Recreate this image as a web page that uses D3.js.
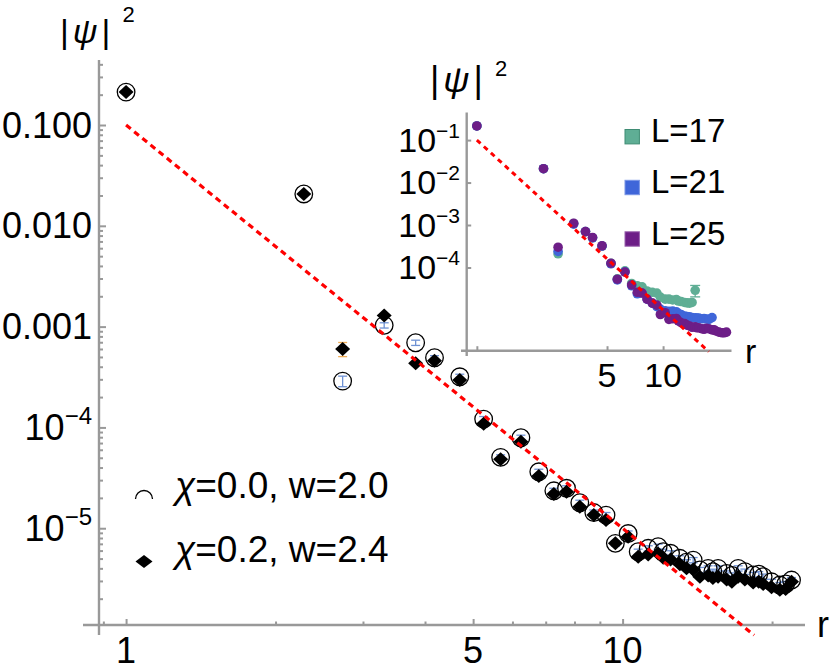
<!DOCTYPE html>
<html>
<head>
<meta charset="utf-8">
<script src="https://cdn.jsdelivr.net/npm/d3@7"></script>
<style>
body { margin: 0; background: #fff; }
svg { font-family: "Liberation Sans", Arial, sans-serif; }
</style>
</head>
<body>
<svg width="830" height="672"></svg>
<script>
// distances r shared by all series
const rVals = [1, 2.28, 2.73, 3.31, 3.83, 4.18, 4.70, 5.25, 5.68, 6.24,
    6.78, 7.27, 7.71, 8.20, 8.75, 9.26, 9.67, 10.26, 10.75, 11.26,
    11.79, 12.07, 12.49, 13.04, 13.45, 13.87, 14.31, 14.87, 15.2, 15.57,
    16.2, 16.6, 17.09, 17.63, 18.32, 18.8, 19.19, 19.95, 20.73, 21.3, 21.89];

// main plot: chi=0.0, w=2.0 (open circles)
const psiChi0 = [0.212, 0.0207, 2.88e-4, 1.03e-3, 6.92e-4, 4.91e-4, 3.18e-4, 1.21e-4, 5.05e-5, 7.9e-5,
    3.63e-5, 2.35e-5, 2.49e-5, 1.79e-5, 1.43e-5, 1.35e-5, 7.08e-6, 8.86e-6, 5.85e-6, 6.32e-6,
    6.56e-6, 5.85e-6, 5.64e-6, 5.03e-6, 4.6e-6, 4.83e-6, 3.85e-6, 4.0e-6, 3.7e-6, 4.0e-6,
    3.56e-6, 3.4e-6, 4.0e-6, 3.71e-6, 3.44e-6, 3.5e-6, 3.31e-6, 2.94e-6, 2.73e-6, 2.8e-6, 3.06e-6];
const errChi0 = [0.03, 0.03, 0.12, 0.06, 0.06, 0.05, 0.06, 0.06, 0.06, 0.06,
    0.06, 0.06, 0.06, 0.06, 0.06, 0.06, 0.06, 0.06, 0.06, 0.06,
    0.06, 0.06, 0.06, 0.06, 0.06, 0.06, 0.06, 0.06, 0.06, 0.06,
    0.06, 0.06, 0.06, 0.06, 0.06, 0.06, 0.06, 0.06, 0.06, 0.06, 0.06];

// main plot: chi=0.2, w=2.4 (filled diamonds)
const psiChi2 = [0.212, 0.0207, 6.0e-4, 1.29e-3, 4.33e-4, 4.59e-4, 2.95e-4, 1.09e-4, 4.82e-5, 7.21e-5,
    3.30e-5, 2.18e-5, 2.30e-5, 1.63e-5, 1.35e-5, 1.21e-5, 7.08e-6, 8.24e-6, 5.2e-6, 5.5e-6,
    5.6e-6, 5.1e-6, 4.9e-6, 4.4e-6, 4.0e-6, 3.9e-6, 3.3e-6, 3.4e-6, 3.2e-6, 3.3e-6,
    3.1e-6, 2.95e-6, 3.3e-6, 3.1e-6, 2.9e-6, 2.95e-6, 2.8e-6, 2.6e-6, 2.45e-6, 2.5e-6, 2.95e-6];
const errChi2 = [0.02, 0.02, 0.16, 0.04, 0.04, 0.04, 0.04, 0.04, 0.04, 0.04,
    0.04, 0.04, 0.04, 0.04, 0.04, 0.04, 0.04, 0.04, 0.04, 0.04,
    0.04, 0.04, 0.04, 0.04, 0.04, 0.04, 0.04, 0.04, 0.04, 0.04,
    0.04, 0.04, 0.04, 0.04, 0.04, 0.04, 0.04, 0.04, 0.04, 0.04, 0.04];

// inset: system sizes
const psiL17 = [0.215, 0.0212, 2.1e-4, 1.08e-3, 7.0e-4, 5.0e-4, 3.2e-4, 1.25e-4, 5.4e-5, 8.3e-5,
    4.2e-5, 3.7e-5, 3.5e-5, 2.8e-5, 2.6e-5, 2.5e-5, 2.0e-5, 1.8e-5, 1.8e-5, 1.72e-5,
    1.75e-5, 1.62e-5, 1.58e-5, 1.5e-5, 1.47e-5, 1.45e-5, 1.5e-5, 2.9e-5];
const errL17 = [0, 0, 0, 0, 0, 0, 0, 0, 0, 0,
    0, 0, 0, 0, 0, 0, 0, 0, 0, 0,
    0, 0, 0, 0, 0, 0, 0, 0.3];
const psiL21 = [0.215, 0.0212, 2.4e-4, 1.05e-3, 7.0e-4, 5.0e-4, 3.2e-4, 1.22e-4, 5.1e-5, 7.9e-5,
    3.7e-5, 2.4e-5, 2.5e-5, 1.8e-5, 1.45e-5, 1.2e-5, 1.05e-5, 9.5e-6, 9.3e-6, 9.4e-6,
    9.0e-6, 8.3e-6, 7.8e-6, 7.2e-6, 7.0e-6, 6.9e-6, 6.6e-6, 6.5e-6, 6.4e-6, 6.4e-6,
    6.2e-6, 6.3e-6, 6.1e-6, 6.0e-6, 6.6e-6];
const psiL25 = [0.215, 0.0212, 3.0e-4, 1.1e-3, 7.0e-4, 5.1e-4, 3.25e-4, 1.26e-4, 5.3e-5, 7.8e-5,
    3.9e-5, 2.6e-5, 2.5e-5, 1.8e-5, 1.45e-5, 1.3e-5, 7.8e-6, 8.6e-6, 6.0e-6, 6.2e-6,
    6.3e-6, 5.5e-6, 5.0e-6, 4.8e-6, 4.4e-6, 4.2e-6, 3.9e-6, 4.0e-6, 3.8e-6, 3.8e-6,
    3.6e-6, 3.5e-6, 3.7e-6, 3.6e-6, 3.4e-6, 3.4e-6, 3.2e-6, 3.0e-6, 2.9e-6, 2.9e-6, 3.0e-6];

// power-law guide |psi|^2 = 0.1 r^-4
const fitMain = [[1, 0.1], [18.4, 8.7e-7]];
const fitInset = [[1, 0.1], [17.6, 1.04e-6]];

const mainXTicks = [1, 5, 10];
const mainYTicks = [0.1, 0.01, 0.001, 1e-4, 1e-5];
const mainYLabels = [['0.100', ''], ['0.010', ''], ['0.001', ''], ['10', '\u22124'], ['10', '\u22125']];
const insetXTicks = [1, 5, 10];
const insetXLabels = ['', '5', '10'];
const insetYTicks = [0.1, 0.01, 0.001, 1e-4];
const insetYLabels = [['10', '\u22121'], ['10', '\u22122'], ['10', '\u22123'], ['10', '\u22124']];

const insetSeries = [
    {name: 'L=17', values: psiL17, err: errL17, color: '#5fae95', edge: '#3f8c74'},
    {name: 'L=21', values: psiL21, err: null, color: '#3f66d9', edge: '#7a96e6'},
    {name: 'L=25', values: psiL25, err: null, color: '#6d1e87', edge: '#9a62ad'}
];

const axisColor = '#999999';
const svg = d3.select('svg');

const xDomain = [0.882, 23.3];
const yDomain = [Math.pow(10, -5.96), Math.pow(10, -0.362)];

// ---------- main plot ----------
const xMain = d3.scaleLog().domain(xDomain).range([99, 805]);
const yMain = d3.scaleLog().domain(yDomain).range([625, 60.7]);

const isPow10 = v => Math.abs(Math.log10(v) - Math.round(Math.log10(v))) < 1e-6;

// minor ticks
svg.append('g')
    .attr('transform', 'translate(99,0)')
    .call(d3.axisLeft(yMain).tickValues(yMain.ticks().filter(v => !isPow10(v))).tickSize(-4).tickFormat(''))
    .call(g => g.select('.domain').remove());
svg.append('g')
    .attr('transform', 'translate(99,0)')
    .call(d3.axisLeft(yMain).tickValues(mainYTicks).tickSize(-7).tickFormat(''))
    .call(g => g.select('.domain').remove());
svg.append('g')
    .attr('transform', 'translate(0,625)')
    .call(d3.axisBottom(xMain).tickValues(xMain.ticks().filter(v => !isPow10(v) && v !== 5)).tickSize(-3.5).tickFormat(''))
    .call(g => g.select('.domain').remove());
svg.append('g')
    .attr('transform', 'translate(0,625)')
    .call(d3.axisBottom(xMain).tickValues(mainXTicks).tickSize(-6).tickFormat(''))
    .call(g => g.select('.domain').remove());

svg.selectAll('.tick line').attr('stroke', axisColor).attr('stroke-width', 2);

// axis lines
svg.append('line').attr('x1', 99).attr('x2', 99).attr('y1', 60).attr('y2', 635)
    .attr('stroke', axisColor).attr('stroke-width', 2.4);
svg.append('line').attr('x1', 83).attr('x2', 805).attr('y1', 625).attr('y2', 625)
    .attr('stroke', axisColor).attr('stroke-width', 2.4);

// tick labels
function supLabel(g, x, y, base, sup, size, supSize, rise) {
    const t = g.append('text').attr('x', x).attr('y', y)
        .attr('text-anchor', 'end').attr('font-size', size).attr('fill', '#000')
        .text(base);
    if (sup) {
        t.append('tspan').attr('font-size', supSize).attr('dy', -rise).text(sup);
    }
}
mainYTicks.forEach((v, i) => {
    supLabel(svg, 92, yMain(v) + 12.5, mainYLabels[i][0], mainYLabels[i][1], 36, 24, 16);
});
svg.selectAll('.xlab')
    .data(mainXTicks)
    .enter()
    .append('text')
    .attr('x', d => xMain(d))
    .attr('y', 663)
    .attr('text-anchor', 'middle')
    .attr('font-size', 36)
    .text(d => d);

svg.append('text').attr('x', 817).attr('y', 637).attr('font-size', 36).text('r');

// y label |psi|^2
function psiLabel(x, y, size, supRise) {
    const t = svg.append('text').attr('x', x).attr('y', y).attr('font-size', size);
    t.append('tspan').text('|');
    t.append('tspan').attr('dx', 4).attr('font-style', 'italic').text('\u03c8');
    t.append('tspan').attr('dx', 4).text('|');
    t.append('tspan').attr('dx', 12).attr('dy', -supRise).attr('font-size', 22).text('2');
}
psiLabel(60, 43, 34, 21);

// error bars helper
function errorBars(g, xs, vals, errs, x, y, color, cap) {
    const d = vals.map((v, i) => ({r: xs[i], v: v, e: errs[i]})).filter(p => p.e > 0);
    const eb = g.append('g').attr('stroke', color).attr('stroke-width', 1.3);
    eb.selectAll('.eb').data(d).enter().append('line')
        .attr('x1', p => x(p.r)).attr('x2', p => x(p.r))
        .attr('y1', p => y(p.v * (1 - p.e))).attr('y2', p => y(p.v * (1 + p.e)));
    eb.selectAll('.cap-top').data(d).enter().append('line')
        .attr('x1', p => x(p.r) - cap).attr('x2', p => x(p.r) + cap)
        .attr('y1', p => y(p.v * (1 + p.e))).attr('y2', p => y(p.v * (1 + p.e)));
    eb.selectAll('.cap-bot').data(d).enter().append('line')
        .attr('x1', p => x(p.r) - cap).attr('x2', p => x(p.r) + cap)
        .attr('y1', p => y(p.v * (1 - p.e))).attr('y2', p => y(p.v * (1 - p.e)));
}

const main = svg.append('g');

// circles series
errorBars(main, rVals, psiChi0, errChi0, xMain, yMain, '#6f92d4', 4.5);
main.selectAll('.circ')
    .data(psiChi0)
    .enter()
    .append('circle')
    .attr('cx', (d, i) => xMain(rVals[i]))
    .attr('cy', d => yMain(d))
    .attr('r', 8.8)
    .attr('fill', 'none')
    .attr('stroke', '#000')
    .attr('stroke-width', 1.3);

// diamonds series
errorBars(main, rVals, psiChi2, errChi2, xMain, yMain, '#f0ac55', 4.5);
const diamond = (cx, cy, w, h) => `M${cx},${cy - h}L${cx + w},${cy}L${cx},${cy + h}L${cx - w},${cy}Z`;
main.selectAll('.diam')
    .data(psiChi2)
    .enter()
    .append('path')
    .attr('d', (d, i) => diamond(xMain(rVals[i]), yMain(d), 7.5, 7))
    .attr('fill', '#000');

// fit line
const lineMain = d3.line().x(d => xMain(d[0])).y(d => yMain(d[1]));
svg.append('path')
    .attr('d', lineMain(fitMain))
    .attr('fill', 'none')
    .attr('stroke', '#ff0000')
    .attr('stroke-width', 3.2)
    .attr('stroke-dasharray', '6,4.5');

// main legend
const arcPath = d3.path();
arcPath.arc(144, 499, 8.5, Math.PI, 2 * Math.PI);
svg.append('path').attr('d', arcPath.toString()).attr('fill', 'none')
    .attr('stroke', '#000').attr('stroke-width', 1.3);
svg.append('path').attr('d', diamond(144, 561.5, 8.5, 6.5)).attr('fill', '#000');

const legendText = [['0.0', '2.0'], ['0.2', '2.4']];
legendText.forEach((t, i) => {
    const txt = svg.append('text').attr('x', 175).attr('y', i === 0 ? 498 : 561.5).attr('font-size', 37);
    txt.append('tspan').attr('font-style', 'italic').text('\u03c7');
    txt.append('tspan').text('=' + t[0] + ', w=' + t[1]);
});

// ---------- inset ----------
const xIn = d3.scaleLog().domain(xDomain).range([466.7, 731.5]);
const yIn = d3.scaleLog().domain(yDomain).range([350.7, 113]);

svg.append('g')
    .attr('transform', 'translate(466.7,0)')
    .call(d3.axisLeft(yIn).tickValues(insetYTicks).tickSize(-4.5).tickFormat(''))
    .call(g => g.select('.domain').remove())
    .selectAll('line').attr('stroke', axisColor).attr('stroke-width', 2);
svg.append('g')
    .attr('transform', 'translate(0,350.7)')
    .call(d3.axisBottom(xIn).tickValues(insetXTicks).tickSize(-4.5).tickFormat(''))
    .call(g => g.select('.domain').remove())
    .selectAll('line').attr('stroke', axisColor).attr('stroke-width', 2);

svg.append('line').attr('x1', 466.7).attr('x2', 466.7).attr('y1', 112.5).attr('y2', 356)
    .attr('stroke', axisColor).attr('stroke-width', 2.4);
svg.append('line').attr('x1', 461).attr('x2', 731.5).attr('y1', 350.7).attr('y2', 350.7)
    .attr('stroke', axisColor).attr('stroke-width', 2.4);

insetYTicks.forEach((v, i) => {
    supLabel(svg, 460, yIn(v) + 11.5, insetYLabels[i][0], insetYLabels[i][1], 34, 21, 14);
});
svg.selectAll('.xinlab')
    .data(insetXTicks)
    .enter()
    .append('text')
    .attr('x', d => xIn(d))
    .attr('y', 386.5)
    .attr('text-anchor', 'middle')
    .attr('font-size', 34)
    .text((d, i) => insetXLabels[i]);
svg.append('text').attr('x', 745).attr('y', 362.5).attr('font-size', 34).text('r');

psiLabel(430, 92, 36, 16);

const inset = svg.append('g');
insetSeries.forEach(s => {
    if (s.err) errorBars(inset, rVals, s.values, s.err, xIn, yIn, s.color, 5);
    inset.selectAll(null)
        .data(s.values)
        .enter()
        .append('circle')
        .attr('cx', (d, i) => xIn(rVals[i]))
        .attr('cy', d => yIn(d))
        .attr('r', 4.8)
        .attr('fill', s.color);
});

const lineIn = d3.line().x(d => xIn(d[0])).y(d => yIn(d[1]));
svg.append('path')
    .attr('d', lineIn(fitInset))
    .attr('fill', 'none')
    .attr('stroke', '#ff0000')
    .attr('stroke-width', 3)
    .attr('stroke-dasharray', '5,4.5');

// inset legend
const legY = [136.7, 187.5, 239];
insetSeries.forEach((s, i) => {
    svg.append('rect')
        .attr('x', 625).attr('y', legY[i] - 7.2)
        .attr('width', 14.4).attr('height', 14.4)
        .attr('fill', s.color).attr('stroke', s.edge).attr('stroke-width', 1);
    svg.append('text')
        .attr('x', 651).attr('y', legY[i] + 5.5)
        .attr('font-size', 33)
        .text(s.name);
});
</script>
</body>
</html>
